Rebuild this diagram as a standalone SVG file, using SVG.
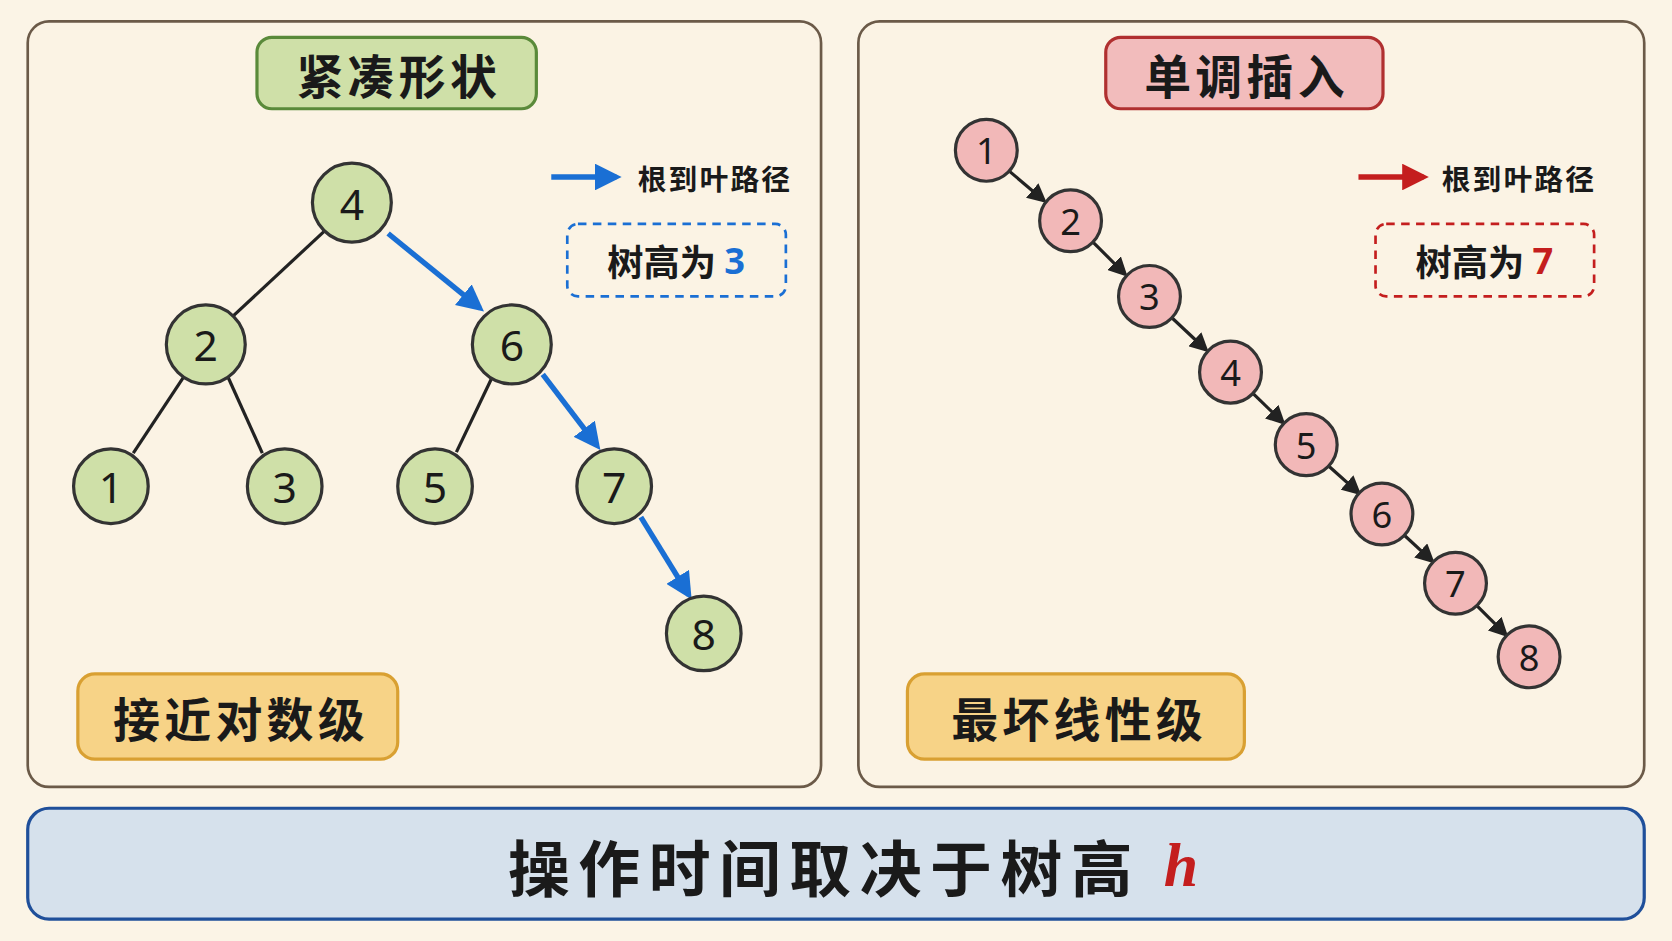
<svg xmlns="http://www.w3.org/2000/svg" width="1672" height="941" viewBox="0 0 1672 941">
<defs>
<style>
.t{font-family:"Noto Sans CJK SC","Noto Sans",sans-serif;font-weight:bold;fill:#1a1a1a;text-anchor:middle;dominant-baseline:central}
.n{font-family:"Noto Sans","DejaVu Sans",sans-serif;fill:#1a1a1a;text-anchor:middle;dominant-baseline:central}
.gn{fill:#cfe0a8;stroke:#333;stroke-width:3}
.rn{fill:#f2b8b8;stroke:#333;stroke-width:3}
.e{stroke:#222;stroke-width:3;fill:none}
</style>
<marker id="ab" viewBox="0 0 10 10" refX="8" refY="5" markerWidth="5" markerHeight="5" orient="auto"><path d="M0,0L10,5L0,10z" fill="#1a6fd4"/></marker>
<marker id="ar" viewBox="0 0 10 10" refX="8" refY="5" markerWidth="5" markerHeight="5" orient="auto"><path d="M0,0L10,5L0,10z" fill="#c41e1e"/></marker>
<marker id="ak" viewBox="0 0 10 10" refX="8" refY="5" markerWidth="6" markerHeight="6" orient="auto"><path d="M0,0L10,5L0,10z" fill="#222"/></marker>
</defs>
<rect width="1672" height="941" fill="#fbf4e6"/>
<g transform="scale(1.0663)">
<g id="panels">
<rect x="26" y="20" width="744" height="718" rx="20" fill="#fbf3e4" stroke="#6b5a48" stroke-width="2.5"/>
<rect x="805" y="20" width="737" height="718" rx="20" fill="#fbf3e4" stroke="#6b5a48" stroke-width="2.5"/>
</g>
<g id="title-left"><rect x="241" y="35" width="262" height="67" rx="14" fill="#cfe0a8" stroke="#5a8a3a" stroke-width="3"/><text class="t" x="374" y="69" font-size="44" letter-spacing="4">紧凑形状</text></g>
<g id="title-right"><rect x="1037" y="35" width="260" height="67" rx="14" fill="#f2bcbc" stroke="#b03030" stroke-width="3"/><text class="t" x="1169" y="69" font-size="44" letter-spacing="4">单调插入</text></g>
<g id="connectors">
<line class="e" x1="304" y1="217" x2="219" y2="296"/>
<line class="e" x1="172" y1="354" x2="125" y2="425"/>
<line class="e" x1="214" y1="354" x2="246" y2="425"/>
<line class="e" x1="461" y1="355" x2="428" y2="424"/>
<g stroke="#1a6fd4" stroke-width="5" fill="none" marker-end="url(#ab)">
<line x1="364" y1="219" x2="450" y2="289"/>
<line x1="509" y1="351" x2="560" y2="418"/>
<line x1="601" y1="485" x2="646" y2="558"/>
<line x1="517" y1="166" x2="578" y2="166"/>
</g>
<line x1="1274" y1="166" x2="1335" y2="166" stroke="#c41e1e" stroke-width="5" marker-end="url(#ar)"/>
<g class="e" marker-end="url(#ak)">
<line x1="946" y1="160" x2="979" y2="188"/>
<line x1="1025" y1="227" x2="1055" y2="257"/>
<line x1="1099" y1="298" x2="1131" y2="328"/>
<line x1="1175" y1="369" x2="1203" y2="396"/>
<line x1="1246" y1="437" x2="1274" y2="462"/>
<line x1="1317" y1="502" x2="1343" y2="526"/>
<line x1="1385" y1="568" x2="1412" y2="595"/>
</g>
</g>
<g id="left-nodes" font-size="40">
<g id="n4"><circle class="gn" cx="330" cy="190" r="37"/><text class="n" x="330" y="190">4</text></g>
<g id="n2"><circle class="gn" cx="193" cy="323" r="37"/><text class="n" x="193" y="323">2</text></g>
<g id="n6"><circle class="gn" cx="480" cy="323" r="37"/><text class="n" x="480" y="323">6</text></g>
<g id="n1"><circle class="gn" cx="104" cy="456" r="35"/><text class="n" x="104" y="456">1</text></g>
<g id="n3"><circle class="gn" cx="267" cy="456" r="35"/><text class="n" x="267" y="456">3</text></g>
<g id="n5"><circle class="gn" cx="408" cy="456" r="35"/><text class="n" x="408" y="456">5</text></g>
<g id="n7"><circle class="gn" cx="576" cy="456" r="35"/><text class="n" x="576" y="456">7</text></g>
<g id="n8"><circle class="gn" cx="660" cy="594" r="35"/><text class="n" x="660" y="594">8</text></g>
</g>
<g id="right-nodes" font-size="34">
<g id="r1"><circle class="rn" cx="925" cy="141" r="29"/><text class="n" x="925" y="141">1</text></g>
<g id="r2"><circle class="rn" cx="1004" cy="207" r="29"/><text class="n" x="1004" y="207">2</text></g>
<g id="r3"><circle class="rn" cx="1078" cy="278" r="29"/><text class="n" x="1078" y="278">3</text></g>
<g id="r4"><circle class="rn" cx="1154" cy="349" r="29"/><text class="n" x="1154" y="349">4</text></g>
<g id="r5"><circle class="rn" cx="1225" cy="417" r="29"/><text class="n" x="1225" y="417">5</text></g>
<g id="r6"><circle class="rn" cx="1296" cy="482" r="29"/><text class="n" x="1296" y="482">6</text></g>
<g id="r7"><circle class="rn" cx="1365" cy="547" r="29"/><text class="n" x="1365" y="547">7</text></g>
<g id="r8"><circle class="rn" cx="1434" cy="616" r="29"/><text class="n" x="1434" y="616">8</text></g>
</g>
<g id="legend-left"><text class="t" x="598" y="166" font-size="27" letter-spacing="2" style="text-anchor:start">根到叶路径</text>
<rect x="532" y="210" width="205" height="68" rx="10" fill="none" stroke="#1a6fd4" stroke-width="2.5" stroke-dasharray="8 6"/>
<text class="t" x="634" y="244" font-size="34">树高为 <tspan fill="#1a6fd4" font-family="Noto Sans,sans-serif">3</tspan></text></g>
<g id="legend-right"><text class="t" x="1352" y="166" font-size="27" letter-spacing="2" style="text-anchor:start">根到叶路径</text>
<rect x="1290" y="210" width="205" height="68" rx="10" fill="none" stroke="#c41e1e" stroke-width="2.5" stroke-dasharray="8 6"/>
<text class="t" x="1392" y="244" font-size="34">树高为 <tspan fill="#c41e1e" font-family="Noto Sans,sans-serif">7</tspan></text></g>
<g id="label-log"><rect x="73" y="632" width="300" height="80" rx="16" fill="#f7d387" stroke="#d9a032" stroke-width="3"/><text class="t" x="226" y="672" font-size="44" letter-spacing="4">接近对数级</text></g>
<g id="label-lin"><rect x="851" y="632" width="316" height="80" rx="16" fill="#f7d387" stroke="#d9a032" stroke-width="3"/><text class="t" x="1012" y="672" font-size="44" letter-spacing="4">最坏线性级</text></g>
<g id="banner"><rect x="26" y="758" width="1516" height="104" rx="20" fill="#d6e1ec" stroke="#1f4f9a" stroke-width="3"/>
<text class="t" x="804" y="811" font-size="58" letter-spacing="8">操作时间取决于树高 <tspan fill="#c41e1e" font-style="italic" font-family="Liberation Serif,serif">h</tspan></text></g>
</g>
</svg>
